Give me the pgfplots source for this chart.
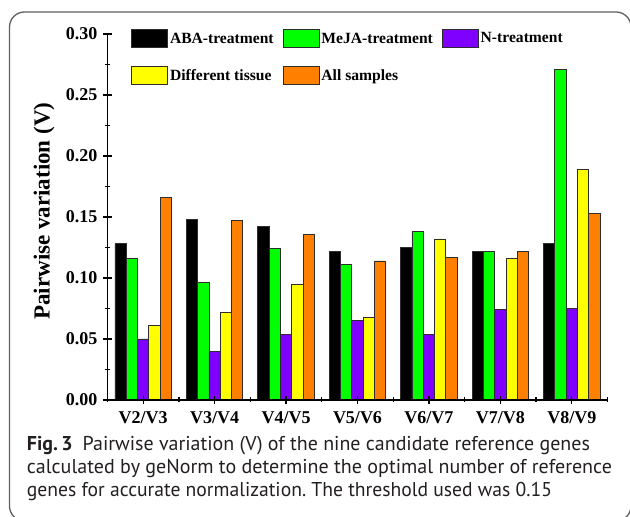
\documentclass[border=0pt]{standalone}
\usepackage{pgfplots}
\pgfplotsset{compat=1.18}
\usepackage{pgfplotstable}
\usepackage{graphicx}
\usepackage{fontspec}
\setmainfont{Liberation Serif}
\newfontfamily\capfont{PT Sans}

\definecolor{cgreen}{RGB}{0,255,0}
\definecolor{cpurple}{RGB}{128,0,255}
\definecolor{cyellow}{RGB}{255,255,0}
\definecolor{corange}{RGB}{255,128,0}
\definecolor{edge}{RGB}{45,45,45}
\definecolor{capgray}{RGB}{35,31,32}

% pairwise variation per step
\pgfplotstableread{
x aba meja n tissue all
1 0.128 0.116 0.050 0.061 0.166
2 0.148 0.096 0.040 0.072 0.147
3 0.142 0.124 0.054 0.095 0.136
4 0.122 0.111 0.065 0.068 0.114
5 0.125 0.138 0.054 0.132 0.117
6 0.122 0.122 0.074 0.116 0.122
7 0.128 0.271 0.075 0.189 0.153
}\pv

\begin{document}
\frenchspacing
\begin{tikzpicture}
\path[use as bounding box] (0,0) rectangle (630pt,517pt);
\begin{scope}
\clip (0,0) rectangle (630pt,517pt);
\draw[gray!75!black, line width=1.3pt, rounded corners=15pt] (9.5pt,505pt) rectangle (631pt,-4pt);
\end{scope}

\begin{axis}[
  at={(107.5pt,117pt)}, anchor=south west,
  scale only axis, width=500pt, height=366pt,
  ybar=0pt, bar width=11.3pt,
  xmin=0.5, xmax=7.5, ymin=0, ymax=0.30,
  xtick={1,2,3,4,5,6,7},
  xticklabels={V2/V3,V3/V4,V4/V5,V5/V6,V6/V7,V7/V8,V8/V9},
  minor xtick={0.5,1.5,2.5,3.5,4.5,5.5,6.5,7.5},
  ytick={0,0.05,0.10,0.15,0.20,0.25,0.30},
  minor y tick num=1,
  tick align=inside,
  major tick length=8pt, minor tick length=5pt,
  every tick/.style={black, line width=1.2pt},
  axis x line=bottom, axis y line=left,
  axis line style={-, line width=1.6pt},
  axis on top,
  tick label style={font=\bfseries\fontsize{18}{18}\selectfont},
  /pgf/number format/assume math mode=true,
  /pgf/number format/fixed, /pgf/number format/fixed zerofill,
  /pgf/number format/precision=2,
  xticklabel style={yshift=-4pt},
  yticklabel style={xshift=-2.5pt},
  ylabel={Pairwise variation (V)},
  every axis y label/.style={at={(axis description cs:-0.127,0.516)}, rotate=90, anchor=center,
    font=\bfseries\fontsize{23}{23}\selectfont},
  legend columns=3,
  legend cell align=left,
  legend image code/.code={\draw[#1] (0pt,-9pt) rectangle (36pt,9pt);},
  legend style={draw=none, fill=none, inner sep=0pt,
    at={(rel axis cs:0,1)}, anchor=north west, xshift=23.5pt, yshift=5pt,
    font=\bfseries\fontsize{15.6}{16}\selectfont,
    /tikz/every even column/.append style={column sep=7pt},
    row sep=18pt},
  every axis plot/.append style={draw=edge, line width=0.8pt},
]
\addplot[fill=black] table[x=x, y=aba] {\pv};
\addplot[fill=cgreen] table[x=x, y=meja] {\pv};
\addplot[fill=cpurple] table[x=x, y=n] {\pv};
\addplot[fill=cyellow] table[x=x, y=tissue] {\pv};
\addplot[fill=corange] table[x=x, y=all] {\pv};
\legend{ABA-treatment, MeJA-treatment, N-treatment, Different tissue, All samples}
\end{axis}

\begin{scope}[capgray, font=\capfont\fontsize{20}{20}\selectfont]
\node[anchor=base west, inner sep=0pt] at (26.7pt,66pt) {\resizebox{563pt}{\height}{\textbf{Fig.\,3}\hspace{10pt}Pairwise variation (V) of the nine candidate reference genes}};
\node[anchor=base west, inner sep=0pt] at (26.7pt,43pt) {\resizebox{585pt}{\height}{calculated by geNorm to determine the optimal number of reference}};
\node[anchor=base west, inner sep=0pt] at (26.7pt,20pt) {\resizebox{525pt}{\height}{genes for accurate normalization. The threshold used was 0.15}};
\end{scope}
\end{tikzpicture}
\end{document}
